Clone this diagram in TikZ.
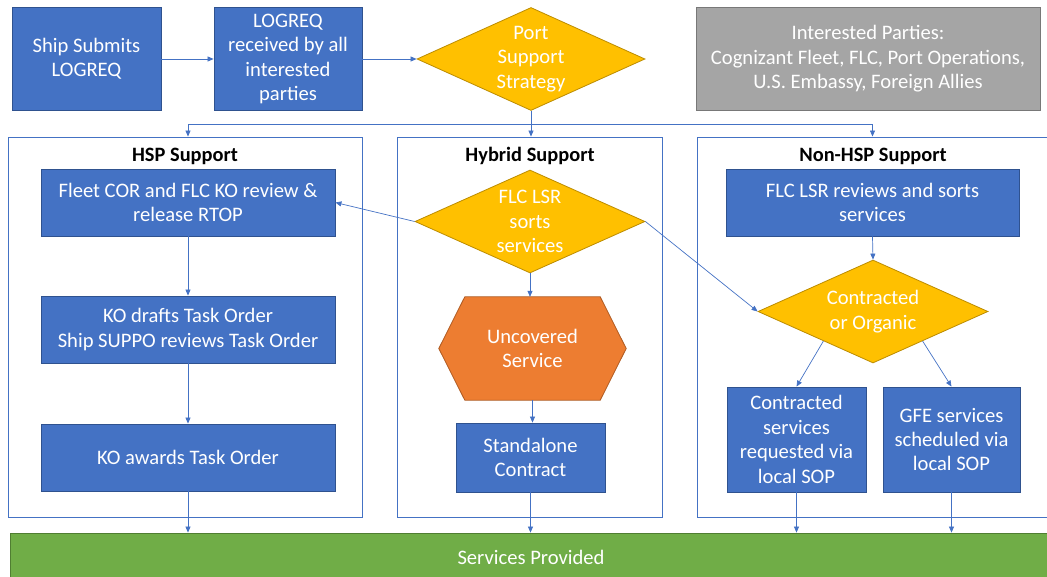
\documentclass[tikz,border=0pt]{standalone}
\usepackage{fontspec}
\setmainfont{Carlito}
\usetikzlibrary{arrows.meta,shapes.geometric,calc}

\definecolor{boxblue}{HTML}{4472C4}
\definecolor{boxedge}{HTML}{2F528F}
\definecolor{gold}{HTML}{FFC000}
\definecolor{goldedge}{HTML}{BC8C00}
\definecolor{orng}{HTML}{ED7D31}
\definecolor{orngedge}{HTML}{AE5A21}
\definecolor{grn}{HTML}{70AD47}
\definecolor{grnedge}{HTML}{507E32}
\definecolor{gry}{HTML}{A5A5A5}
\definecolor{gryedge}{HTML}{787878}
\definecolor{linkblue}{HTML}{4472C4}

\tikzset{
  txt/.style={font=\fontsize{20.6}{24.4}\selectfont, text=white, align=center},
  bluebox/.style={txt, rectangle, fill=boxblue, draw=boxedge, line width=0.8pt, inner sep=0pt},
  dia/.style={diamond, fill=gold, draw=goldedge, line width=0.8pt, inner sep=0pt},
  lane/.style={rectangle, draw=linkblue, line width=0.9pt, inner sep=0pt},
  lanetitle/.style={font=\fontsize{20.4}{24}\selectfont\bfseries, text=black},
  conn/.style={draw=linkblue, line width=0.7pt},
  arr/.style={conn, -{Triangle[length=6pt,width=5pt]}},
}

\begin{document}
\begin{tikzpicture}[x=1pt, y=-1pt]
\useasboundingbox (0,0) rectangle (1047,577);

% --- top row ---
\node[bluebox, minimum width=149pt, minimum height=103pt] (ship) at (86.5,59) {Ship Submits\\LOGREQ};
\node[bluebox, minimum width=148pt, minimum height=103pt] (recv) at (288,59) {LOGREQ\\received by all\\interested\\parties};
\node[dia, minimum width=228pt, minimum height=103pt] (psd) at (531,59) {};
\node[txt] (psdtext) at (psd.center) {Port\\Support\\Strategy};
\node[txt, rectangle, fill=gry, draw=gryedge, line width=0.8pt, minimum width=344pt, minimum height=103pt] (parties) at (868,59)
  {Interested Parties:\\Cognizant Fleet, FLC, Port Operations,\\U.S. Embassy, Foreign Allies};

% --- swimlanes ---
\node[lane, minimum width=354pt, minimum height=380pt] (hsp) at (185,327) {};
\node[lane, minimum width=265pt, minimum height=380pt] (hyb) at (529.5,327) {};
\node[lane, minimum width=360pt, minimum height=380pt] (non) at (877,327) {};
\node[lanetitle] (hsptitle) at (185,156) {HSP Support};
\node[lanetitle] (hybtitle) at (530,156) {Hybrid Support};
\node[lanetitle] (nontitle) at (873,156) {Non-HSP Support};

% --- HSP lane ---
\node[bluebox, minimum width=294pt, minimum height=67pt] (fleet) at (188,202.5) {Fleet COR and FLC KO review \&\\release RTOP};
\node[bluebox, minimum width=294pt, minimum height=67pt] (draft) at (188,329.5) {KO drafts Task Order\\Ship SUPPO reviews Task Order};
\node[bluebox, minimum width=294pt, minimum height=67pt] (award) at (188,457.5) {KO awards Task Order};

% --- Hybrid lane ---
\node[dia, minimum width=230pt, minimum height=103pt] (lsr) at (530,221.5) {};
\node[txt] (lsrtext) at (lsr.center) {FLC LSR\\sorts\\services};
\node[rectangle, inner sep=0pt, minimum width=187pt, minimum height=103pt] (unc) at (532.5,348.5) {};
\fill[orng, draw=orngedge, line width=0.8pt]
  ($(unc.north west)+(26,0)$) -- ($(unc.north east)+(-26,0)$) -- (unc.east)
  -- ($(unc.south east)+(-26,0)$) -- ($(unc.south west)+(26,0)$) -- (unc.west) -- cycle;
\node[txt] (unctext) at (unc.center) {Uncovered\\Service};
\node[bluebox, minimum width=149pt, minimum height=69pt] (sac) at (530.5,457.5) {Standalone\\Contract};

% --- Non-HSP lane ---
\node[bluebox, minimum width=293pt, minimum height=67pt] (sorts) at (872.5,202.5) {FLC LSR reviews and sorts\\services};
\node[dia, minimum width=230pt, minimum height=103pt] (cor) at (873,311.5) {};
\node[txt] (cortext) at (cor.center) {Contracted\\or Organic};
\node[bluebox, minimum width=139pt, minimum height=105pt] (csr) at (796.5,439.5) {Contracted\\services\\requested via\\local SOP};
\node[bluebox, minimum width=137pt, minimum height=105pt] (gfe) at (951.5,439.5) {GFE services\\scheduled via\\local SOP};

% --- outcome bar ---
\node[rectangle, fill=grn, draw=grnedge, line width=0.8pt, minimum width=1042pt, minimum height=48pt] (done) at (531,557) {};
\node[txt] (donetext) at (531,557) {Services Provided};

% --- connectors ---
\draw[arr] (ship.east) -- (recv.west);
\draw[arr] (recv.east) -- (psd.west);
\draw[conn] (psd.south) -- ++(0,13) coordinate (bus);
\draw[arr] (bus) -- (psd.south |- hyb.north);
\draw[arr] (bus) -| (fleet.north |- hsp.north);
\draw[arr] (bus) -| (sorts.north |- non.north);

\draw[arr] (fleet.south) -- (draft.north);
\draw[arr] (draft.south) -- (award.north);
\draw[arr] (award.south) -- (award.south |- done.north);

\draw[arr] (lsr.west) -- (fleet.east);
\draw[arr] (lsr.east) -- (cor.west);
\draw[arr] (lsr.south) -- (lsr.south |- unc.north);
\draw[arr] (unc.south) -- (unc.south |- sac.north);
\draw[arr] (sac.south) -- (sac.south |- done.north);

\draw[arr] (sorts.south) -- (cor.north);
\draw[arr] ($(cor.south)!0.43!(cor.west)$) -- (csr.north);
\draw[arr] ($(cor.south)!0.43!(cor.east)$) -- (gfe.north);
\draw[arr] (csr.south) -- (csr.south |- done.north);
\draw[arr] (gfe.south) -- (gfe.south |- done.north);
\end{tikzpicture}
\end{document}
